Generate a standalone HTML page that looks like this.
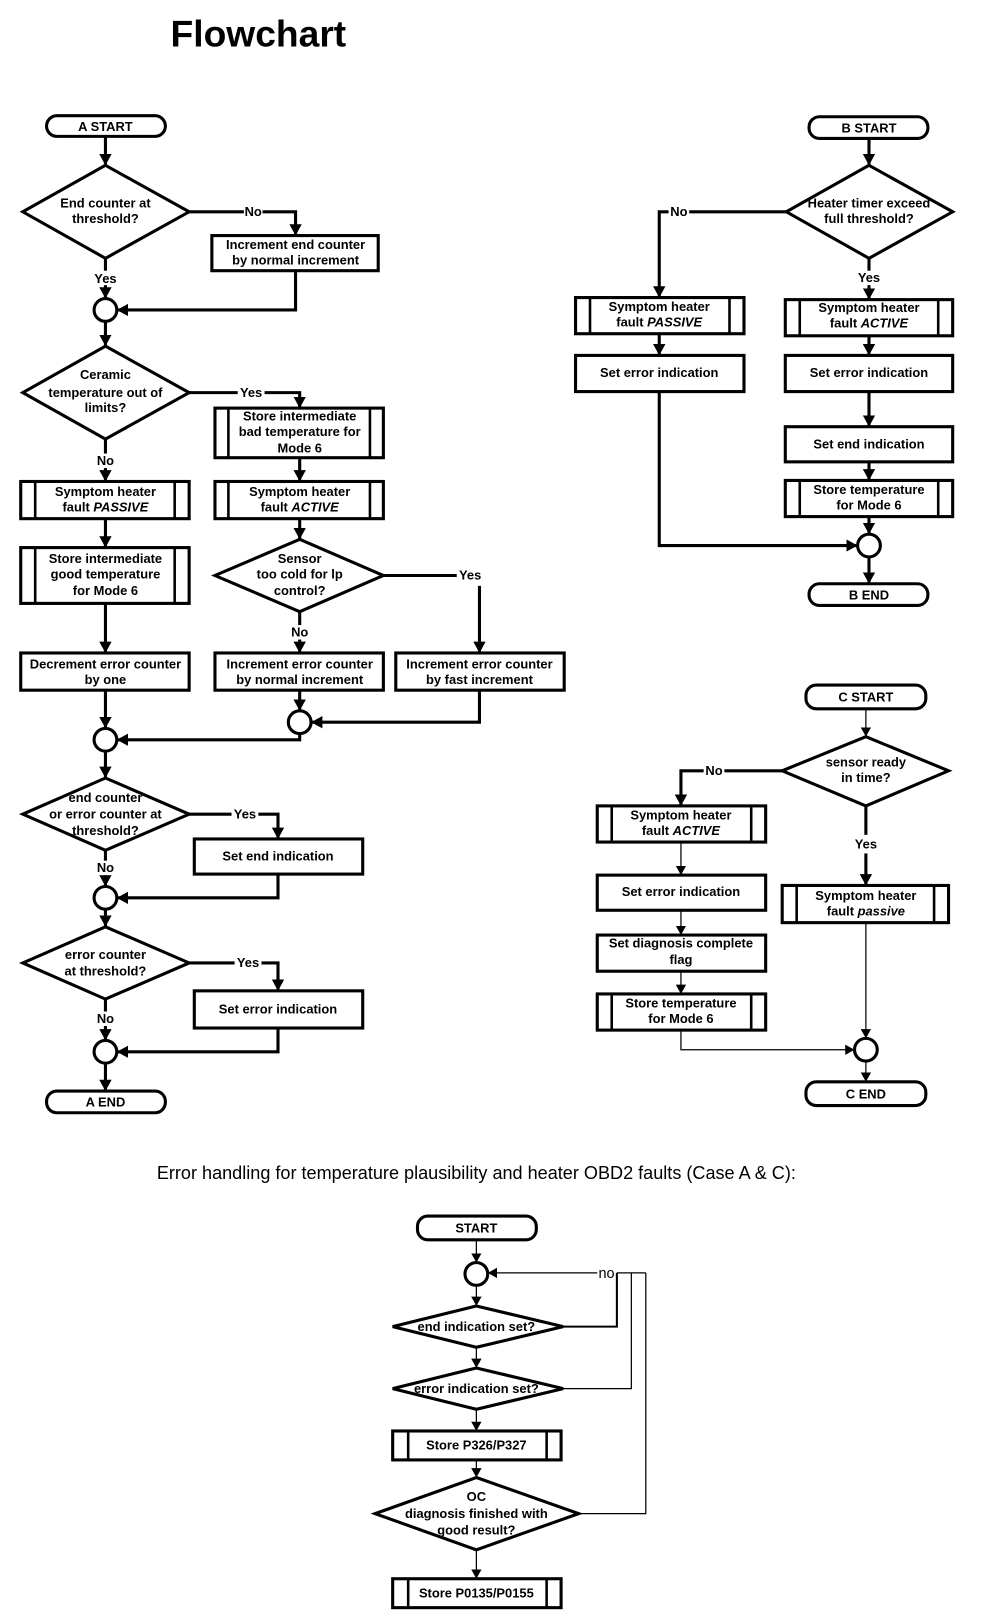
<!DOCTYPE html>
<html><head><meta charset="utf-8"><style>
html,body{margin:0;padding:0;background:#fff;}
svg{display:block;}
.b{fill:#fff;stroke:#000;stroke-width:3}
.l{fill:none;stroke:#000;stroke-width:3}
.n{fill:none;stroke:#000;stroke-width:1.2}
.v{stroke:#000;stroke-width:2.5}
text{font-family:"Liberation Sans",Arial,sans-serif;font-weight:bold;font-size:12.5px;text-anchor:middle;fill:#000}
.lb{font-weight:bold;font-size:12.5px}
</style></head><body>
<svg width="992" height="1618" viewBox="0 0 960 1566" xmlns="http://www.w3.org/2000/svg">
<defs>
<marker id="a" markerUnits="userSpaceOnUse" markerWidth="12" markerHeight="12" refX="11" refY="6" orient="auto"><path d="M0,0 L11,6 L0,12 z" fill="#000"/></marker>
<marker id="t" markerUnits="userSpaceOnUse" markerWidth="10" markerHeight="10" refX="9" refY="5" orient="auto"><path d="M0,0 L9,5 L0,10 z" fill="#000"/></marker>
</defs>
<rect width="960" height="1566" fill="#fff"/>
<text x="250" y="45" style="font-size:36px;font-weight:bold">Flowchart</text>

<!-- ===== A ===== -->
<rect class="b" x="45" y="112" width="115" height="20" rx="10"/>
<text x="102" y="127">A START</text>
<line class="l" x1="102" y1="132" x2="102" y2="160" marker-end="url(#a)"/>
<polygon class="b" points="102,160 183,205 102,250 22,205"/>
<text x="102" y="201">End counter at</text><text x="102" y="216">threshold?</text>
<polyline class="l" points="183,205 286,205 286,228" marker-end="url(#a)"/>
<rect x="236" y="198" width="18" height="14" fill="#fff"/><text x="245" y="209">No</text>
<rect class="b" x="205" y="228" width="161" height="34"/>
<text x="286" y="241">Increment end counter</text><text x="286" y="256">by normal increment</text>
<line class="l" x1="102" y1="250" x2="102" y2="289" marker-end="url(#a)"/>
<rect x="88" y="262" width="28" height="14" fill="#fff"/><text x="102" y="274">Yes</text>
<circle class="b" cx="102" cy="300" r="11"/>
<polyline class="l" points="286,262 286,300 113,300" marker-end="url(#a)"/>
<line class="l" x1="102" y1="311" x2="102" y2="335" marker-end="url(#a)"/>
<polygon class="b" points="102,335 183,380 102,425 22,380"/>
<text x="102" y="367">Ceramic</text><text x="102" y="384">temperature out of</text><text x="102" y="399">limits?</text>
<polyline class="l" points="183,380 290,380 290,395" marker-end="url(#a)"/>
<rect x="230" y="373" width="26" height="14" fill="#fff"/><text x="243" y="384">Yes</text>
<rect class="b" x="208" y="395" width="163" height="48"/>
<line class="v" x1="221" y1="395" x2="221" y2="443"/><line class="v" x1="358" y1="395" x2="358" y2="443"/>
<text x="290" y="407">Store intermediate</text><text x="290" y="422">bad temperature for</text><text x="290" y="438">Mode 6</text>
<line class="l" x1="102" y1="425" x2="102" y2="466" marker-end="url(#a)"/>
<rect x="90" y="439" width="24" height="14" fill="#fff"/><text x="102" y="450">No</text>
<rect class="b" x="20" y="466" width="163" height="36"/>
<line class="v" x1="34" y1="466" x2="34" y2="502"/><line class="v" x1="169" y1="466" x2="169" y2="502"/>
<text x="102" y="480">Symptom heater</text><text x="102" y="495">fault <tspan font-style="italic">PASSIVE</tspan></text>
<line class="l" x1="102" y1="502" x2="102" y2="530" marker-end="url(#a)"/>
<rect class="b" x="20" y="530" width="163" height="54"/>
<line class="v" x1="34" y1="530" x2="34" y2="584"/><line class="v" x1="169" y1="530" x2="169" y2="584"/>
<text x="102" y="545">Store intermediate</text><text x="102" y="560">good temperature</text><text x="102" y="576">for Mode 6</text>
<line class="l" x1="102" y1="584" x2="102" y2="632" marker-end="url(#a)"/>
<rect class="b" x="20" y="632" width="163" height="36"/>
<text x="102" y="647">Decrement error counter</text><text x="102" y="662">by one</text>
<line class="l" x1="290" y1="443" x2="290" y2="466" marker-end="url(#a)"/>
<rect class="b" x="208" y="466" width="163" height="36"/>
<line class="v" x1="221" y1="466" x2="221" y2="502"/><line class="v" x1="358" y1="466" x2="358" y2="502"/>
<text x="290" y="480">Symptom heater</text><text x="290" y="495">fault <tspan font-style="italic">ACTIVE</tspan></text>
<line class="l" x1="290" y1="502" x2="290" y2="522" marker-end="url(#a)"/>
<polygon class="b" points="290,522 371,557 290,592 208,557"/>
<text x="290" y="545">Sensor</text><text x="290" y="560">too cold for lp</text><text x="290" y="576">control?</text>
<line class="l" x1="371" y1="557" x2="442" y2="557"/>
<text x="455" y="561">Yes</text>
<line class="l" x1="464" y1="567" x2="464" y2="632" marker-end="url(#a)"/>
<line class="l" x1="290" y1="592" x2="290" y2="632" marker-end="url(#a)"/>
<rect x="278" y="605" width="24" height="14" fill="#fff"/><text x="290" y="616">No</text>
<rect class="b" x="208" y="632" width="163" height="36"/>
<text x="290" y="647">Increment error counter</text><text x="290" y="662">by normal increment</text>
<rect class="b" x="383" y="632" width="163" height="36"/>
<text x="464" y="647">Increment error counter</text><text x="464" y="662">by fast increment</text>
<line class="l" x1="290" y1="668" x2="290" y2="688" marker-end="url(#a)"/>
<circle class="b" cx="290" cy="699" r="11"/>
<polyline class="l" points="464,668 464,699 301,699" marker-end="url(#a)"/>
<line class="l" x1="102" y1="668" x2="102" y2="705" marker-end="url(#a)"/>
<circle class="b" cx="102" cy="716" r="11"/>
<polyline class="l" points="290,710 290,716 113,716" marker-end="url(#a)"/>
<line class="l" x1="102" y1="727" x2="102" y2="753" marker-end="url(#a)"/>
<polygon class="b" points="102,753 183,788 102,823 22,788"/>
<text x="102" y="776">end counter</text><text x="102" y="792">or error counter at</text><text x="102" y="808">threshold?</text>
<polyline class="l" points="183,788 269,788 269,812" marker-end="url(#a)"/>
<rect x="224" y="781" width="26" height="14" fill="#fff"/><text x="237" y="792">Yes</text>
<rect class="b" x="188" y="812" width="163" height="34"/>
<text x="269" y="833">Set end indication</text>
<line class="l" x1="102" y1="823" x2="102" y2="858" marker-end="url(#a)"/>
<rect x="90" y="833" width="24" height="14" fill="#fff"/><text x="102" y="844">No</text>
<circle class="b" cx="102" cy="869" r="11"/>
<polyline class="l" points="269,846 269,869 113,869" marker-end="url(#a)"/>
<line class="l" x1="102" y1="880" x2="102" y2="897" marker-end="url(#a)"/>
<polygon class="b" points="102,897 183,932 102,967 22,932"/>
<text x="102" y="928">error counter</text><text x="102" y="944">at threshold?</text>
<polyline class="l" points="183,932 269,932 269,959" marker-end="url(#a)"/>
<rect x="227" y="925" width="26" height="14" fill="#fff"/><text x="240" y="936">Yes</text>
<rect class="b" x="188" y="959" width="163" height="36"/>
<text x="269" y="981">Set error indication</text>
<line class="l" x1="102" y1="967" x2="102" y2="1007" marker-end="url(#a)"/>
<rect x="90" y="979" width="24" height="14" fill="#fff"/><text x="102" y="990">No</text>
<circle class="b" cx="102" cy="1018" r="11"/>
<polyline class="l" points="269,995 269,1018 113,1018" marker-end="url(#a)"/>
<line class="l" x1="102" y1="1029" x2="102" y2="1056" marker-end="url(#a)"/>
<rect class="b" x="45" y="1056" width="115" height="21" rx="10"/>
<text x="102" y="1071">A END</text>

<!-- ===== B ===== -->
<rect class="b" x="783" y="113" width="115" height="21" rx="10"/>
<text x="841" y="128">B START</text>
<line class="l" x1="841" y1="134" x2="841" y2="160" marker-end="url(#a)"/>
<polygon class="b" points="841,160 922,205 841,250 761,205"/>
<text x="841" y="201">Heater timer exceed</text><text x="841" y="216">full threshold?</text>
<polyline class="l" points="761,205 638,205 638,288" marker-end="url(#a)"/>
<rect x="647" y="198" width="20" height="14" fill="#fff"/><text x="657" y="209">No</text>
<rect class="b" x="557" y="288" width="163" height="35"/>
<line class="v" x1="571" y1="288" x2="571" y2="323"/><line class="v" x1="706" y1="288" x2="706" y2="323"/>
<text x="638" y="301">Symptom heater</text><text x="638" y="316">fault <tspan font-style="italic">PASSIVE</tspan></text>
<line class="l" x1="638" y1="323" x2="638" y2="344" marker-end="url(#a)"/>
<rect class="b" x="557" y="344" width="163" height="35"/>
<text x="638" y="365">Set error indication</text>
<polyline class="l" points="638,379 638,528 830,528" marker-end="url(#a)"/>
<line class="l" x1="841" y1="250" x2="841" y2="290" marker-end="url(#a)"/>
<rect x="828" y="262" width="26" height="14" fill="#fff"/><text x="841" y="273">Yes</text>
<rect class="b" x="760" y="290" width="162" height="35"/>
<line class="v" x1="774" y1="290" x2="774" y2="325"/><line class="v" x1="908" y1="290" x2="908" y2="325"/>
<text x="841" y="302">Symptom heater</text><text x="841" y="317">fault <tspan font-style="italic">ACTIVE</tspan></text>
<line class="l" x1="841" y1="325" x2="841" y2="344" marker-end="url(#a)"/>
<rect class="b" x="760" y="344" width="162" height="35"/>
<text x="841" y="365">Set error indication</text>
<line class="l" x1="841" y1="379" x2="841" y2="413" marker-end="url(#a)"/>
<rect class="b" x="760" y="413" width="162" height="34"/>
<text x="841" y="434">Set end indication</text>
<line class="l" x1="841" y1="447" x2="841" y2="465" marker-end="url(#a)"/>
<rect class="b" x="760" y="465" width="162" height="35"/>
<line class="v" x1="774" y1="465" x2="774" y2="500"/><line class="v" x1="908" y1="465" x2="908" y2="500"/>
<text x="841" y="478">Store temperature</text><text x="841" y="493">for Mode 6</text>
<line class="l" x1="841" y1="500" x2="841" y2="517" marker-end="url(#a)"/>
<circle class="b" cx="841" cy="528" r="11"/>
<line class="l" x1="841" y1="539" x2="841" y2="565" marker-end="url(#a)"/>
<rect class="b" x="783" y="565" width="115" height="21" rx="10"/>
<text x="841" y="580">B END</text>

<!-- ===== C ===== -->
<rect class="b" x="780" y="663" width="116" height="23" rx="10"/>
<text x="838" y="679">C  START</text>
<line class="n" x1="838" y1="686" x2="838" y2="713" marker-end="url(#t)"/>
<polygon class="b" points="838,713 918,746 838,780 757,746"/>
<text x="838" y="742">sensor ready</text><text x="838" y="757">in time?</text>
<polyline class="l" points="757,746 659,746 659,780" marker-end="url(#a)"/>
<rect x="681" y="739" width="20" height="14" fill="#fff"/><text x="691" y="750">No</text>
<rect class="b" x="578" y="780" width="163" height="35"/>
<line class="v" x1="592" y1="780" x2="592" y2="815"/><line class="v" x1="727" y1="780" x2="727" y2="815"/>
<text x="659" y="793">Symptom heater</text><text x="659" y="808">fault <tspan font-style="italic">ACTIVE</tspan></text>
<line class="n" x1="659" y1="815" x2="659" y2="847" marker-end="url(#t)"/>
<rect class="b" x="578" y="847" width="163" height="34"/>
<text x="659" y="867">Set error indication</text>
<line class="n" x1="659" y1="881" x2="659" y2="905" marker-end="url(#t)"/>
<rect class="b" x="578" y="905" width="163" height="35"/>
<text x="659" y="917">Set diagnosis complete</text><text x="659" y="933">flag</text>
<line class="n" x1="659" y1="940" x2="659" y2="962" marker-end="url(#t)"/>
<rect class="b" x="578" y="962" width="163" height="35"/>
<line class="v" x1="592" y1="962" x2="592" y2="997"/><line class="v" x1="727" y1="962" x2="727" y2="997"/>
<text x="659" y="975">Store temperature</text><text x="659" y="990">for Mode 6</text>
<polyline class="n" points="659,997 659,1016 827,1016" marker-end="url(#t)"/>
<line class="l" x1="838" y1="780" x2="838" y2="808"/>
<text x="838" y="821">Yes</text>
<line class="l" x1="838" y1="826" x2="838" y2="857" marker-end="url(#a)"/>
<rect class="b" x="757" y="857" width="161" height="36"/>
<line class="v" x1="771" y1="857" x2="771" y2="893"/><line class="v" x1="904" y1="857" x2="904" y2="893"/>
<text x="838" y="871">Symptom heater</text><text x="838" y="886">fault <tspan font-style="italic">passive</tspan></text>
<line class="n" x1="838" y1="893" x2="838" y2="1005" marker-end="url(#t)"/>
<circle class="b" cx="838" cy="1016" r="11"/>
<line class="n" x1="838" y1="1027" x2="838" y2="1047" marker-end="url(#t)"/>
<rect class="b" x="780" y="1047" width="116" height="23" rx="10"/>
<text x="838" y="1063">C END</text>

<!-- caption -->
<text x="461" y="1141" style="font-weight:normal;font-size:17.5px">Error handling for temperature plausibility and heater OBD2 faults (Case A &amp; C):</text>

<!-- ===== bottom ===== -->
<rect class="b" x="404" y="1177" width="115" height="23" rx="10"/>
<text x="461" y="1193">START</text>
<line class="n" x1="461" y1="1200" x2="461" y2="1222" marker-end="url(#t)"/>
<circle class="b" cx="461" cy="1233" r="11"/>
<line class="n" x1="578" y1="1232" x2="472" y2="1232" marker-end="url(#t)"/>
<text x="587" y="1237" style="font-weight:normal;font-size:14px">no</text>
<line class="n" x1="597" y1="1232" x2="625" y2="1232"/>
<line class="n" x1="461" y1="1244" x2="461" y2="1264" marker-end="url(#t)"/>
<polygon class="b" points="461,1264 545,1284 461,1304 380,1284"/>
<text x="461" y="1288">end indication set?</text>
<polyline class="n" points="545,1284 597,1284 597,1232" style="stroke-width:2"/>
<line class="n" x1="461" y1="1304" x2="461" y2="1324" marker-end="url(#t)"/>
<polygon class="b" points="461,1324 545,1344 461,1364 380,1344"/>
<text x="461" y="1348">error indication set?</text>
<polyline class="n" points="545,1344 611,1344 611,1232"/>
<line class="n" x1="461" y1="1364" x2="461" y2="1385" marker-end="url(#t)"/>
<rect class="b" x="380" y="1385" width="163" height="28"/>
<line class="v" x1="395" y1="1385" x2="395" y2="1413"/><line class="v" x1="529" y1="1385" x2="529" y2="1413"/>
<text x="461" y="1403">Store P326/P327</text>
<line class="n" x1="461" y1="1413" x2="461" y2="1430" marker-end="url(#t)"/>
<polygon class="b" points="461,1430 560,1465 461,1500 363,1465"/>
<text x="461" y="1453">OC</text><text x="461" y="1469">diagnosis finished with</text><text x="461" y="1485">good result?</text>
<polyline class="n" points="560,1465 625,1465 625,1232"/>
<line class="n" x1="461" y1="1500" x2="461" y2="1528" marker-end="url(#t)"/>
<rect class="b" x="380" y="1528" width="163" height="28"/>
<line class="v" x1="395" y1="1528" x2="395" y2="1556"/><line class="v" x1="529" y1="1528" x2="529" y2="1556"/>
<text x="461" y="1546">Store P0135/P0155</text>
</svg>
</body></html>
